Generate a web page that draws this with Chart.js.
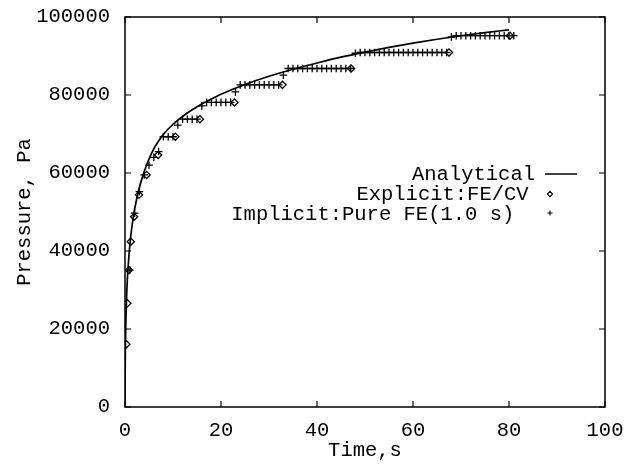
<!DOCTYPE html>
<html><head><meta charset="utf-8">
<script src="https://cdn.jsdelivr.net/npm/chart.js@4/dist/chart.umd.min.js"></script>
<style>html,body{margin:0;padding:0;background:#fff}#wrap{width:630px;height:464px}</style>
</head><body><div id="wrap"><canvas id="c" width="630" height="464"></canvas></div>
<script>
const xTicks = [0, 20, 40, 60, 80, 100];
const yTicks = [0, 20000, 40000, 60000, 80000, 100000];
const seriesLabels = ["Analytical", "Explicit:FE/CV", "Implicit:Pure FE(1.0 s)"];
const xTitle = "Time,s";
const yTitle = "Pressure, Pa";

// Analytical curve
const anaT = [0, 0.05, 0.15, 0.3, 0.5, 0.8, 1.2, 1.6, 2, 3, 4, 5, 6, 7, 8, 10, 12, 14, 16, 18, 20, 25, 30, 35, 40, 45, 50, 55, 60, 65, 70, 75, 80];
const anaP = [0, 11000, 20000, 27000, 33000, 38500, 43800, 47600, 50700, 56300, 60300, 63600, 66200, 68200, 69900, 72500, 74500, 76200, 77700, 79000, 80200, 82700, 84800, 86600, 88200, 89700, 91000, 92200, 93300, 94300, 95200, 96000, 96700];

// Explicit FE/CV (diamonds)
const expT = [0.3, 0.5, 0.8, 1.2, 1.9, 2.9, 4.5, 6.9, 10.5, 15.6, 22.8, 32.8, 47.1, 67.5, 80.2];
const expP = [16100, 26600, 35100, 42400, 48800, 54400, 59500, 64600, 69300, 73800, 78100, 82600, 86800, 90900, 95200];

// Implicit pure FE, 1.0 s step (pluses)
const impT = [1, 2, 3, 4, 5, 6, 7, 8, 9, 10, 11, 12, 13, 14, 15, 16, 17, 18, 19, 20, 21, 22, 23, 24, 25, 26, 27, 28, 29, 30, 31, 32, 33, 34, 35, 36, 37, 38, 39, 40, 41, 42, 43, 44, 45, 46, 47, 48, 49, 50, 51, 52, 53, 54, 55, 56, 57, 58, 59, 60, 61, 62, 63, 64, 65, 66, 67, 68, 69, 70, 71, 72, 73, 74, 75, 76, 77, 78, 79, 80, 81];
const impP = [35100, 49700, 55200, 59500, 62000, 64000, 65500, 69300, 69300, 69300, 72300, 73800, 73800, 73800, 73800, 77200, 78100, 78100, 78100, 78100, 78100, 78100, 80800, 82600, 82600, 82600, 82600, 82600, 82600, 82600, 82600, 82600, 85100, 86800, 86800, 86800, 86800, 86800, 86800, 86800, 86800, 86800, 86800, 86800, 86800, 86800, 86800, 90700, 90900, 90900, 90900, 90900, 90900, 90900, 90900, 90900, 90900, 90900, 90900, 90900, 90900, 90900, 90900, 90900, 90900, 90900, 90900, 94900, 95200, 95200, 95200, 95200, 95200, 95200, 95200, 95200, 95200, 95200, 95200, 95200, 95200, 95200];

const FONT = '"Liberation Mono", "Courier New", monospace';
const FSIZE = 20.5;
const fontObj = {family: FONT, size: FSIZE};
const INK = '#000';

const pts = (xs, ys) => xs.map((x, i) => ({x: x, y: ys[i]}));

const framePlugin = {
  id: 'frame',
  afterDraw(chart) {
    const ctx = chart.ctx, a = chart.chartArea;
    const xs = chart.scales.x, ys = chart.scales.y;
    const tl = 6;
    ctx.save();
    ctx.strokeStyle = INK;
    ctx.lineWidth = 1.5;
    ctx.strokeRect(a.left, a.top, a.right - a.left, a.bottom - a.top);
    ctx.lineWidth = 1.2;
    ctx.beginPath();
    xTicks.forEach(v => {
      const px = xs.getPixelForValue(v);
      ctx.moveTo(px, a.bottom); ctx.lineTo(px, a.bottom - tl);
      ctx.moveTo(px, a.top); ctx.lineTo(px, a.top + tl);
    });
    yTicks.forEach(v => {
      const py = ys.getPixelForValue(v);
      ctx.moveTo(a.left, py); ctx.lineTo(a.left + tl, py);
      ctx.moveTo(a.right, py); ctx.lineTo(a.right - tl, py);
    });
    ctx.stroke();
    ctx.restore();
  }
};

// key: text placed as in the reference (right-justified with a nominal
// per-character width slightly wider than the real glyphs), sample on the right
const legendPlugin = {
  id: 'keyBox',
  afterDraw(chart) {
    const ctx = chart.ctx, a = chart.chartArea;
    const ds = chart.data.datasets;
    const anchor = a.left + 426;
    const rows = [a.top + 158, a.top + 178, a.top + 198];
    ctx.save();
    ctx.font = FSIZE + 'px ' + FONT;
    ctx.fillStyle = INK;
    ctx.textAlign = 'left';
    ctx.textBaseline = 'middle';
    ds.forEach((d, i) => {
      ctx.fillText(d.label, anchor - d.label.length * 13.9, rows[i]);
    });
    ctx.strokeStyle = INK;
    ctx.lineWidth = 1.5;
    const sx = a.left + 420;
    ctx.beginPath();
    ctx.moveTo(sx, rows[0] - 1); ctx.lineTo(sx + 32, rows[0] - 1);
    ctx.stroke();
    const mx = sx + 5;
    ctx.lineWidth = 1.1;
    ctx.beginPath();
    const r = 2.6, y1 = rows[1] - 1;
    ctx.moveTo(mx, y1 - r); ctx.lineTo(mx + r, y1); ctx.lineTo(mx, y1 + r); ctx.lineTo(mx - r, y1); ctx.closePath();
    ctx.stroke();
    ctx.beginPath();
    const y2 = rows[2] - 2;
    ctx.moveTo(mx - r, y2); ctx.lineTo(mx + r, y2);
    ctx.moveTo(mx, y2 - r); ctx.lineTo(mx, y2 + r);
    ctx.stroke();
    ctx.restore();
  }
};

new Chart(document.getElementById('c'), {
  type: 'scatter',
  data: {
    datasets: [
      {type: 'line', label: seriesLabels[0], data: pts(anaT, anaP), borderColor: INK, borderWidth: 1.7,
       pointRadius: 0, fill: false, showLine: true, cubicInterpolationMode: 'monotone', order: 3},
      {label: seriesLabels[1], data: pts(expT, expP), pointStyle: 'rectRot', pointRadius: 3.6,
       borderColor: INK, backgroundColor: 'rgba(0,0,0,0)', borderWidth: 1.3, order: 2},
      {label: seriesLabels[2], data: pts(impT, impP), pointStyle: 'cross', pointRadius: 3.8,
       borderColor: INK, backgroundColor: INK, borderWidth: 1.3, order: 1}
    ]
  },
  options: {
    responsive: false,
    animation: false,
    devicePixelRatio: 1,
    layout: {padding: 0},
    plugins: {legend: {display: false}, tooltip: {enabled: false}},
    scales: {
      x: {
        type: 'linear', position: 'bottom', min: 0, max: 100,
        afterBuildTicks(s) { s.ticks = xTicks.map(v => ({value: v})); },
        ticks: {font: fontObj, color: INK, padding: 11, maxRotation: 0, autoSkip: false},
        grid: {display: false, drawTicks: false}, border: {display: false},
        title: {display: true, text: xTitle, font: fontObj, color: INK, padding: {top: 0, bottom: 1}},
        afterFit(s) { s.height = 57; s.paddingLeft = 0; s.paddingRight = 0; }
      },
      x2: {
        type: 'linear', position: 'top', min: 0, max: 100, display: true,
        ticks: {display: false}, grid: {display: false, drawTicks: false}, border: {display: false},
        afterFit(s) { s.height = 17; s.paddingLeft = 0; s.paddingRight = 0; }
      },
      y: {
        type: 'linear', position: 'left', min: 0, max: 100000,
        afterBuildTicks(s) { s.ticks = yTicks.map(v => ({value: v})); },
        ticks: {font: fontObj, color: INK, padding: 15, autoSkip: false, callback: v => String(v)},
        grid: {display: false, drawTicks: false}, border: {display: false},
        title: {display: true, text: yTitle, font: fontObj, color: INK, padding: {top: 12, bottom: 0}},
        afterFit(s) { s.width = 125; s.paddingTop = 0; s.paddingBottom = 0; }
      },
      y2: {
        type: 'linear', position: 'right', min: 0, max: 100000, display: true,
        ticks: {display: false}, grid: {display: false, drawTicks: false}, border: {display: false},
        afterFit(s) { s.width = 25; s.paddingTop = 0; s.paddingBottom = 0; }
      }
    }
  },
  plugins: [framePlugin, legendPlugin]
});
</script>
</body></html>
